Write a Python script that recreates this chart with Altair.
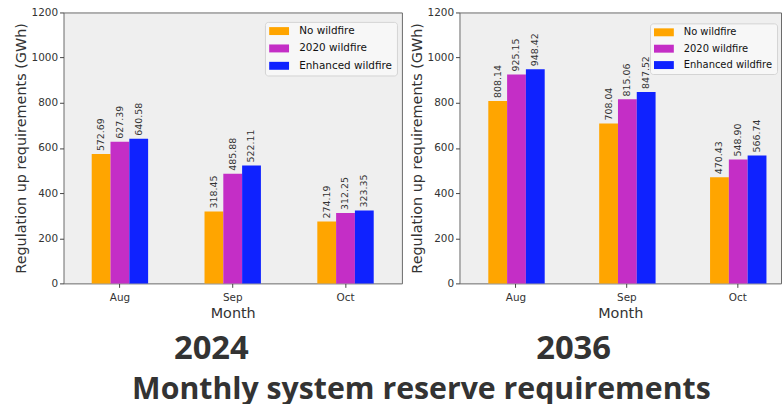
import altair as alt
import pandas as pd

months = ["Aug", "Sep", "Oct"]
series = ["No wildfire", "2020 wildfire", "Enhanced wildfire"]
colors = ["#FFA500", "#C42EC6", "#0F22FF"]

v2024_no = [572.69, 318.45, 274.19]
v2024_2020 = [627.39, 485.88, 312.25]
v2024_enh = [640.58, 522.11, 323.35]

v2036_no = [808.14, 708.04, 470.43]
v2036_2020 = [925.15, 815.06, 548.90]
v2036_enh = [948.42, 847.52, 566.74]

y_ticks = [0, 200, 400, 600, 800, 1000, 1200]


def make_df(no, w20, enh):
    rows = []
    for s, vals in zip(series, [no, w20, enh]):
        for m, v in zip(months, vals):
            rows.append({"Month": m, "Scenario": s, "Value": v})
    return pd.DataFrame(rows)


FONT = "DejaVu Sans"


def panel(df, width, xscale, title_text, title_dx, lx, ly, lfont):
    base = alt.Chart(df).encode(
        x=alt.X(
            "Month:N",
            sort=months,
            scale=xscale,
            axis=alt.Axis(title="Month", labelAngle=0),
        ),
        xOffset=alt.XOffset("Scenario:N", sort=series, scale=alt.Scale(paddingInner=0, paddingOuter=0)),
        y=alt.Y(
            "Value:Q",
            scale=alt.Scale(domain=[0, 1200], nice=False),
            axis=alt.Axis(title="Regulation up requirements (GWh)", values=y_ticks, format="d"),
        ),
    )
    bars = base.mark_bar(strokeWidth=0).encode(
        color=alt.Color(
            "Scenario:N",
            sort=series,
            scale=alt.Scale(domain=series, range=colors),
            legend=alt.Legend(
                title=None,
                orient="none",
                legendX=lx,
                legendY=ly,
                symbolType="M-1.25,-1H3.75V1H-1.25Z",
                symbolSize=64,
                symbolStrokeWidth=0,
                symbolOpacity=1,
                labelFont=FONT,
                labelFontSize=lfont,
                labelColor="#111",
                labelOffset=20,
                rowPadding=6.5,
                padding=4,
                fillColor="#F7F7F7",
                strokeColor="#D4D4D4",
                cornerRadius=3,
            ),
        )
    )
    labels = base.mark_text(
        angle=270, align="left", baseline="middle", dx=3, font=FONT, fontSize=9.5, color="#333"
    ).encode(text=alt.Text("Value:Q", format=".2f"))
    return alt.layer(bars, labels).properties(
        width=width,
        height=273,
        title=alt.TitleParams(
            title_text,
            orient="bottom",
            anchor="middle",
            font="Open Sans",
            fontSize=33,
            fontWeight="bold",
            color="#333",
            offset=13,
            dx=title_dx,
        ),
    )


left = panel(
    make_df(v2024_no, v2024_2020, v2024_enh),
    341,
    alt.Scale(paddingInner=0.5, paddingOuter=0.25),
    "2024", -21.5, 203, 9.5, 10.5,
)
right = panel(
    make_df(v2036_no, v2036_2020, v2036_enh),
    324,
    alt.Scale(paddingInner=0.5, paddingOuter=0.2, align=0.65),
    "2036", -47, 192, 11, 10,
)

chart = (
    alt.hconcat(left, right, spacing=5)
    .resolve_scale(x="independent", y="independent", color="independent")
    .resolve_legend(color="independent")
    .properties(
        title=alt.TitleParams(
            "Monthly system reserve requirements",
            orient="bottom",
            anchor="middle",
            font="Open Sans",
            fontSize=30.5,
            fontWeight="bold",
            color="#333",
            offset=9,
            dx=24.5,
        ),
        padding={"left": 12, "top": 5, "right": 0, "bottom": 0},
        background="white",
    )
    .configure_view(fill="#EFEFEF", stroke="#6A6A6A", strokeWidth=1)
    .configure_axis(
        labelFont=FONT,
        labelFontSize=10.5,
        labelColor="#333",
        titleFont=FONT,
        titleFontSize=14.5,
        titleFontWeight="normal",
        titleColor="#333",
        tickColor="#444",
        tickSize=4,
        domain=False,
        grid=False,
    )
    .configure_axisY(titlePadding=3, labelPadding=2)
    .configure_axisX(titlePadding=4, labelPadding=5)
)

chart.save("out.html", embed_options={"renderer": "svg", "actions": False})
